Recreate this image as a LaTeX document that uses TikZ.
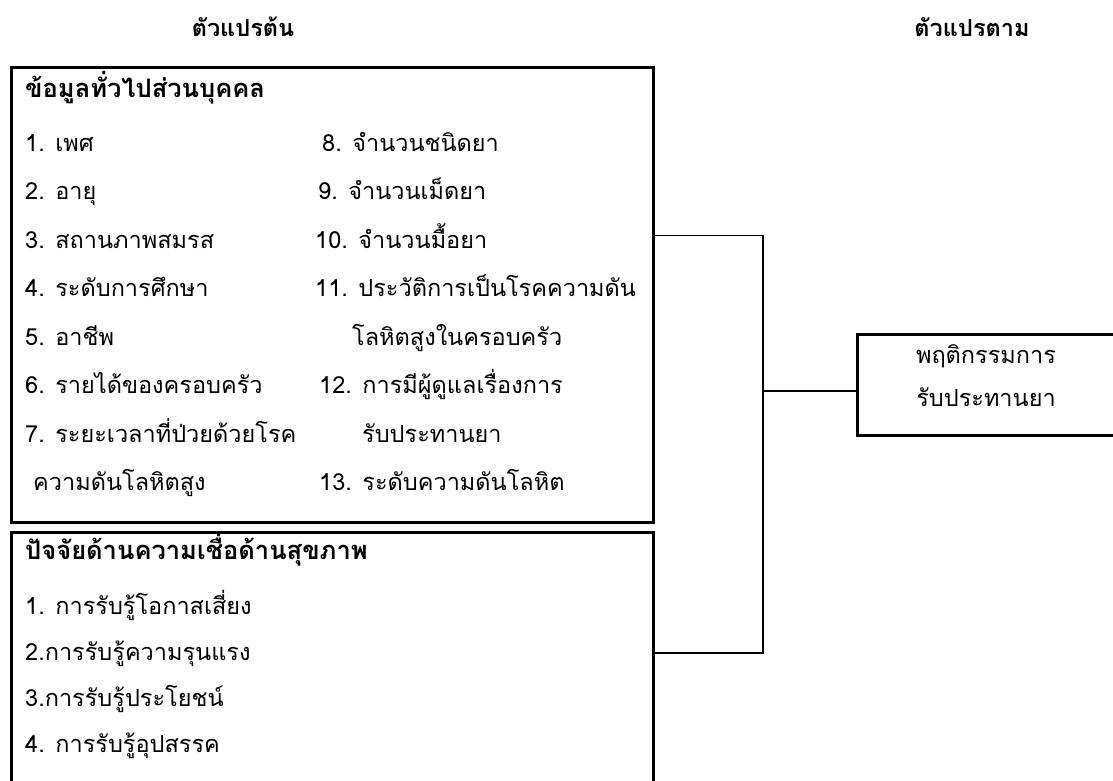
\documentclass[tikz,border=0pt]{standalone}
\usepackage{fontspec}
\newfontfamily\thaifont[Script=Thai]{Loma}
\usetikzlibrary{positioning}
\begin{document}
\begin{tikzpicture}[x=1pt, y=-1pt, font=\thaifont\fontsize{23.5}{28}\selectfont]
        \tikzstyle{item} = [anchor=base west, inner sep=0pt]
        \tikzstyle{head} = [anchor=base west, inner sep=0pt, font=\thaifont\bfseries\fontsize{25.5}{30}\selectfont]
        \tikzstyle{title} = [anchor=base, inner sep=0pt, font=\thaifont\bfseries\fontsize{23.5}{28}\selectfont]
        \tikzstyle{panel} = [rectangle, draw, line width=2.5pt, anchor=north west, inner sep=0pt]
        \tikzstyle{link} = [line width=1.7pt]

        \useasboundingbox (0,0) rectangle (1113,780);
        \clip (0,0) rectangle (1113,780);

        % column titles
        \node [title] (indep) at (243,36) {ตัวแปรต้น};
        \node [title] (dep) at (972,36) {ตัวแปรตาม};

        % personal data
        \node [panel, minimum width=642, minimum height=455] (info) at (10,66) {};
        \node [head] (infohead) at (25,97) {ข้อมูลทั่วไปส่วนบุคคล};
        \node [item] (sex) at (25,151) {1. เพศ};
        \node [item] (age) at (25,199.5) {2. อายุ};
        \node [item] (marital) at (25,248) {3. สถานภาพสมรส};
        \node [item] (edu) at (25,296.5) {4. ระดับการศึกษา};
        \node [item] (job) at (25,345) {5. อาชีพ};
        \node [item] (income) at (25,393.5) {6. รายได้ของครอบครัว};
        \node [item] (duration) at (25,442) {7. ระยะเวลาที่ป่วยด้วยโรค};
        \node [item] (duration2) at (33,490.5) {ความดันโลหิตสูง};
        \node [item] (kinds) at (322,151) {8. จำนวนชนิดยา};
        \node [item] (pills) at (318,199.5) {9. จำนวนเม็ดยา};
        \node [item] (meals) at (315,248) {10. จำนวนมื้อยา};
        \node [item] (history) at (315,296.5) {11. ประวัติการเป็นโรคความดัน};
        \node [item] (history2) at (352,345) {โลหิตสูงในครอบครัว};
        \node [item] (carer) at (319,393.5) {12. การมีผู้ดูแลเรื่องการ};
        \node [item] (carer2) at (362,442) {รับประทานยา};
        \node [item] (bp) at (319,490.5) {13. ระดับความดันโลหิต};

        % health belief
        \node [panel, minimum width=642, minimum height=300] (belief) at (10,531) {};
        \node [head] (belhead) at (25,559) {ปัจจัยด้านความเชื่อด้านสุขภาพ};
        \node [item] (risk) at (25,614) {1. การรับรู้โอกาสเสี่ยง};
        \node [item] (severity) at (25,660) {2.การรับรู้ความรุนแรง};
        \node [item] (benefit) at (25,706) {3.การรับรู้ประโยชน์};
        \node [item] (barrier) at (25,752) {4. การรับรู้อุปสรรค};

        % outcome
        \node [panel, minimum width=280, minimum height=101] (behav) at (856,333) {};
        \node [item, anchor=base] (behav1) at (986,363) {พฤติกรรมการ};
        \node [item, anchor=base] (behav2) at (986,406) {รับประทานยา};

        \coordinate (bus) at (763,391);
        \draw [link] (info.east |- meals.west) -- (bus |- meals.west) -- (bus |- severity.west) -- (belief.east |- severity.west);
        \draw [link] (bus) -- (bus -| behav.west);
    \end{tikzpicture}
\end{document}
